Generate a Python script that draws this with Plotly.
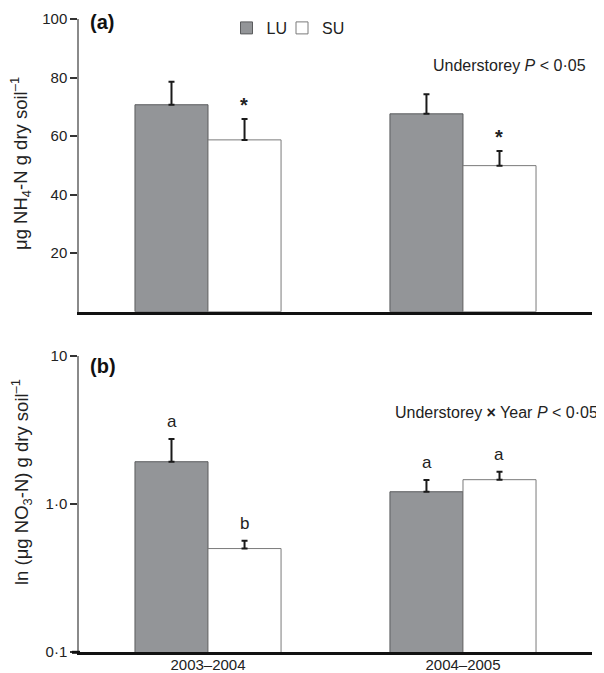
import math
import plotly.graph_objects as go

years = ["2003–2004", "2004–2005"]
nh4_lu = [70.7, 67.6]
nh4_lu_err = [7.9, 6.7]
nh4_su = [58.7, 49.9]
nh4_su_err = [7.1, 5.0]
no3_lu = [1.93, 1.21]
no3_lu_err = [0.82, 0.24]
no3_su = [0.50, 1.46]
no3_su_err = [0.065, 0.19]
nh4_su_marks = ["*", "*"]
no3_lu_letters = ["a", "a"]
no3_su_letters = ["b", "a"]

FONT = "Liberation Sans, Arial, sans-serif"
LU_FILL = "#939598"
LU_LINE = "#5a5b5d"
SU_FILL = "#ffffff"
SU_LINE = "#7a7a7a"
TXT = "#222222"

# the page body has an 8px margin, so the figure is drawn 8px in from the window edge
OFF = 8
W, H = 604 - OFF, 673 - OFF
ML, MR, MT, MB = 79 - OFF, 12, 19 - OFF, 21
PW, PH = W - ML - MR, H - MT - MB


def py(pix):
    """window pixel y -> paper coordinate"""
    return (H - MB - (pix - OFF)) / PH


def px(pix):
    """window pixel x -> paper coordinate"""
    return (pix - OFF - ML) / PW


def err(vals):
    return dict(type="data", array=vals, arrayminus=[0] * len(vals), symmetric=False,
                color="#1a1a1a", thickness=2, width=3)


fig = go.Figure()
fig.add_trace(go.Bar(x=years, y=nh4_lu, name="LU", legend="legend",
                     marker=dict(color=LU_FILL, line=dict(color=LU_LINE, width=1)),
                     error_y=err(nh4_lu_err), xaxis="x", yaxis="y", offsetgroup="LU"))
fig.add_trace(go.Bar(x=years, y=nh4_su, name="SU", legend="legend2",
                     marker=dict(color=SU_FILL, line=dict(color=SU_LINE, width=1)),
                     error_y=err(nh4_su_err), xaxis="x", yaxis="y", offsetgroup="SU"))
fig.add_trace(go.Bar(x=years, y=no3_lu, name="LU", showlegend=False,
                     marker=dict(color=LU_FILL, line=dict(color=LU_LINE, width=1)),
                     error_y=err(no3_lu_err), xaxis="x2", yaxis="y2", offsetgroup="LU"))
fig.add_trace(go.Bar(x=years, y=no3_su, name="SU", showlegend=False,
                     marker=dict(color=SU_FILL, line=dict(color=SU_LINE, width=1)),
                     error_y=err(no3_su_err), xaxis="x2", yaxis="y2", offsetgroup="SU"))

xr = [-0.506, 1.506]
top_dom = [py(311.7), 1.0]
bot_dom = [0.0, py(356)]

axis_common = dict(showgrid=False, zeroline=False, ticks="outside", ticklen=7, tickwidth=1.5,
                   tickcolor="#333", tickfont=dict(family=FONT, size=15, color=TXT), automargin=False)

legend_common = dict(orientation="h", xanchor="left", yanchor="middle",
                     font=dict(family=FONT, size=16, color=TXT), bgcolor="rgba(0,0,0,0)")

fig.update_layout(
    width=W, height=H, margin=dict(l=ML, r=MR, t=MT, b=MB, autoexpand=False),
    plot_bgcolor="white", paper_bgcolor="white",
    barmode="group", bargap=0.427, bargroupgap=0,
    font=dict(family=FONT, color=TXT),
    xaxis=dict(domain=[0, 1], range=xr, anchor="y", showticklabels=False, showline=True,
               linecolor="#111", linewidth=3, showgrid=False, ticks="", zeroline=False, automargin=False),
    yaxis=dict(domain=top_dom, range=[0, 100], tickvals=[20, 40, 60, 80, 100], showline=True,
               linecolor="#8a8a8a", linewidth=1.5, **axis_common),
    xaxis2=dict(domain=[0, 1], range=xr, anchor="y2", showline=True, linecolor="#111", linewidth=3,
                showgrid=False, ticks="", zeroline=False, automargin=False, ticklabelstandoff=-3,
                tickfont=dict(family=FONT, size=15, color=TXT)),
    yaxis2=dict(domain=bot_dom, type="log", range=[-1, 1], tickvals=[0.1, 1, 10],
                ticktext=["0·1", "1·0", "10"], showline=True, linecolor="#8a8a8a", linewidth=1.5,
                **axis_common),
    legend=dict(x=px(226.5), y=py(28), **legend_common),
    legend2=dict(x=px(282), y=py(28), **legend_common),
    shapes=[dict(type="line", xref="paper", yref="paper", x0=px(72), x1=px(80),
                 y0=py(652.3), y1=py(652.3), line=dict(color="#111", width=3))],
)

ann = []
ann.append(dict(text="<b>(a)</b>", x=px(88), y=py(22), xref="paper", yref="paper", xanchor="left",
                yanchor="middle", showarrow=False, font=dict(family=FONT, size=20, color="#111")))
ann.append(dict(text="<b>(b)</b>", x=px(88), y=py(366), xref="paper", yref="paper", xanchor="left",
                yanchor="middle", showarrow=False, font=dict(family=FONT, size=20, color="#111")))
ann.append(dict(text="Understorey <i>P</i> < 0·05", x=px(431), y=py(65), xref="paper", yref="paper",
                xanchor="left", yanchor="middle", showarrow=False,
                font=dict(family=FONT, size=16, color=TXT)))
ann.append(dict(text="Understorey <b>×</b> Year <i>P</i> < 0·05", x=px(393), y=py(412), xref="paper",
                yref="paper", xanchor="left", yanchor="middle", showarrow=False,
                font=dict(family=FONT, size=16, color=TXT)))
ann.append(dict(text="μg NH<sub>4</sub>-N g dry soil<sup>–1</sup>", x=px(21), y=py(164),
                xref="paper", yref="paper", textangle=-90, xanchor="center", yanchor="middle",
                showarrow=False, font=dict(family=FONT, size=18.5, color=TXT)))
ann.append(dict(text="ln (μg NO<sub>3</sub>-N) g dry soil<sup>–1</sup>", x=px(21), y=py(482),
                xref="paper", yref="paper", textangle=-90, xanchor="center", yanchor="middle",
                showarrow=False, font=dict(family=FONT, size=18.5, color=TXT)))

for i in range(len(years)):
    ann.append(dict(text="<b>" + nh4_su_marks[i] + "</b>", x=i + 0.143, y=nh4_su[i] + nh4_su_err[i] + 0.3,
                    xref="x", yref="y", xanchor="center", yanchor="bottom", showarrow=False,
                    font=dict(family=FONT, size=20, color=TXT)))
for i in range(len(years)):
    ann.append(dict(text=no3_lu_letters[i], x=i - 0.143, y=math.log10(no3_lu[i] + no3_lu_err[i]) + 0.04,
                    xref="x2", yref="y2", xanchor="center", yanchor="bottom", showarrow=False,
                    font=dict(family=FONT, size=17, color=TXT)))
    ann.append(dict(text=no3_su_letters[i], x=i + 0.143, y=math.log10(no3_su[i] + no3_su_err[i]) + 0.04,
                    xref="x2", yref="y2", xanchor="center", yanchor="bottom", showarrow=False,
                    font=dict(family=FONT, size=17, color=TXT)))

fig.update_layout(annotations=ann)
fig.write_html("out.html")
